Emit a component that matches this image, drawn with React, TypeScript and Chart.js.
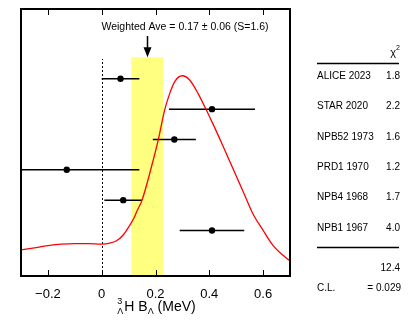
import React, { useEffect, useRef } from "react";
import { Chart, registerables } from "chart.js";

Chart.register(...registerables);

// ---- Data ----
const X_MIN = -0.3;
const X_MAX = 0.7;
const X_TICKS = [-0.2, 0, 0.2, 0.4, 0.6];
const Y_MAX = 8.8;

const EXPERIMENTS = ["ALICE 2023", "STAR 2020", "NPB52 1973", "PRD1 1970", "NPB4 1968", "NPB1 1967"];
const VALUES = [0.07, 0.41, 0.27, -0.13, 0.08, 0.41];
const ERRORS = [0.07, 0.16, 0.08, 0.27, 0.07, 0.12];
const ROWS = [6.5, 5.5, 4.5, 3.5, 2.5, 1.5];
const CHI2 = ["1.8", "2.2", "1.6", "1.2", "1.7", "4.0"];
const CHI2_TOTAL = "12.4";
const CL_TEXT = "= 0.029";

const WEIGHTED_AVE = 0.17;
const WEIGHTED_ERR = 0.06;
const WEIGHTED_LABEL = "Weighted Ave = 0.17 \u00b1 0.06 (S=1.6)";
const BAND_TOP = 7.21;
const ZERO_LINE_TOP = 7.15;
const ARROW_TOP = 7.91;
const LABEL_Y = 8.2;

const CURVE_X = [-0.3, -0.25, -0.2, -0.15, -0.1, -0.05, 0.0, 0.03, 0.055, 0.08, 0.105, 0.12, 0.13, 0.15, 0.185, 0.21, 0.234, 0.253, 0.271, 0.299, 0.327, 0.358, 0.389, 0.42, 0.45, 0.487, 0.524, 0.561, 0.599, 0.636, 0.673, 0.7];
const CURVE_Y = [0.86, 0.93, 1.0, 1.05, 1.07, 1.07, 1.05, 1.08, 1.16, 1.35, 1.68, 1.91, 2.12, 2.5, 3.6, 4.48, 5.47, 6.02, 6.4, 6.6, 6.46, 6.02, 5.47, 4.89, 4.3, 3.56, 2.82, 2.07, 1.52, 1.02, 0.69, 0.5];

const FONT = "'Liberation Sans', Arial, Helvetica, sans-serif";

const fmtTick = (v: number) => {
  const s = Math.abs(v) < 1e-9 ? "0" : String(Math.round(v * 10) / 10);
  return s.replace("-", "\u2212");
};

const overlay = {
  id: "overlay",
  beforeDatasetsDraw(chart: any) {
    const { ctx, chartArea: a, scales } = chart;
    const x = scales.x;
    const y = scales.y;
    ctx.save();
    // band
    const bx0 = x.getPixelForValue(WEIGHTED_AVE - WEIGHTED_ERR);
    const bx1 = x.getPixelForValue(WEIGHTED_AVE + WEIGHTED_ERR);
    const by0 = y.getPixelForValue(BAND_TOP);
    ctx.fillStyle = "#ffff80";
    ctx.fillRect(bx0, by0, bx1 - bx0, a.bottom - by0);
    // dotted zero line
    ctx.strokeStyle = "#000";
    ctx.lineWidth = 1;
    ctx.setLineDash([2, 2]);
    ctx.beginPath();
    const zx = Math.round(x.getPixelForValue(0)) + 0.5;
    ctx.moveTo(zx, a.bottom);
    ctx.lineTo(zx, y.getPixelForValue(ZERO_LINE_TOP));
    ctx.stroke();
    ctx.setLineDash([]);
    // error bars
    ctx.save();
    ctx.beginPath();
    ctx.rect(a.left, a.top, a.right - a.left, a.bottom - a.top);
    ctx.clip();
    ctx.lineWidth = 1.5;
    ctx.strokeStyle = "#000";
    VALUES.forEach((v, i) => {
      const py = y.getPixelForValue(ROWS[i]);
      ctx.beginPath();
      ctx.moveTo(x.getPixelForValue(v - ERRORS[i]), py);
      ctx.lineTo(x.getPixelForValue(v + ERRORS[i]), py);
      ctx.stroke();
    });
    ctx.restore();
    ctx.restore();
  },
  afterDatasetsDraw(chart: any) {
    const { ctx, chartArea: a, scales } = chart;
    const x = scales.x;
    const y = scales.y;
    ctx.save();
    // frame
    ctx.strokeStyle = "#000";
    ctx.lineWidth = 2;
    ctx.strokeRect(a.left, a.top, a.right - a.left, a.bottom - a.top);
    // inner ticks
    ctx.lineWidth = 1;
    X_TICKS.forEach((t) => {
      const px = Math.round(x.getPixelForValue(t)) + 0.5;
      ctx.beginPath();
      ctx.moveTo(px, a.bottom);
      ctx.lineTo(px, a.bottom - 6);
      ctx.moveTo(px, a.top);
      ctx.lineTo(px, a.top + 6);
      ctx.stroke();
    });
    // arrow
    const ax = Math.round(x.getPixelForValue(WEIGHTED_AVE)) + 0.5;
    const ayTop = y.getPixelForValue(ARROW_TOP);
    const ayTip = y.getPixelForValue(BAND_TOP);
    ctx.lineWidth = 1.5;
    ctx.beginPath();
    ctx.moveTo(ax, ayTop);
    ctx.lineTo(ax, ayTip - 8);
    ctx.stroke();
    ctx.fillStyle = "#000";
    ctx.beginPath();
    ctx.moveTo(ax - 4, ayTip - 10);
    ctx.lineTo(ax + 4, ayTip - 10);
    ctx.lineTo(ax, ayTip);
    ctx.closePath();
    ctx.fill();
    // label
    ctx.font = `10.5px ${FONT}`;
    ctx.textAlign = "center";
    ctx.textBaseline = "middle";
    ctx.fillText(WEIGHTED_LABEL, 185, y.getPixelForValue(LABEL_Y));

    // axis title: ^3_Λ H B_Λ (MeV)
    const big = `14px ${FONT}`;
    const small = `9px ${FONT}`;
    const base = 311;
    ctx.textAlign = "left";
    ctx.textBaseline = "alphabetic";
    ctx.font = small;
    const preW = Math.max(ctx.measureText("3").width, ctx.measureText("\u039b").width);
    ctx.font = big;
    const w1 = ctx.measureText("H B").width;
    ctx.font = small;
    const w2 = ctx.measureText("\u039b").width;
    ctx.font = big;
    const w3 = ctx.measureText(" (MeV)").width;
    const total = preW + 1 + w1 + w2 + w3;
    let cx = (a.left + a.right) / 2 + 1 - total / 2;
    ctx.font = small;
    ctx.fillText("3", cx, base - 7);
    ctx.fillText("\u039b", cx, base + 3);
    cx += preW + 1;
    ctx.font = big;
    ctx.fillText("H B", cx, base);
    cx += w1;
    ctx.font = small;
    ctx.fillText("\u039b", cx, base + 3);
    cx += w2;
    ctx.font = big;
    ctx.fillText(" (MeV)", cx, base);

    // table
    const tl = 317;
    const tr = 400;
    ctx.textBaseline = "middle";
    ctx.textAlign = "right";
    ctx.font = `7px ${FONT}`;
    ctx.fillText("2", tr, 48);
    const w7 = ctx.measureText("2").width;
    ctx.font = `11px ${FONT}`;
    ctx.fillText("\u03c7", tr - w7, 53);
    ctx.lineWidth = 1.5;
    ctx.beginPath();
    ctx.moveTo(tl, 63.5);
    ctx.lineTo(tr - 1, 63.5);
    ctx.moveTo(tl, 247.5);
    ctx.lineTo(tr - 1, 247.5);
    ctx.stroke();
    ctx.font = `10px ${FONT}`;
    EXPERIMENTS.forEach((name, i) => {
      const py = y.getPixelForValue(ROWS[i]) - 2.5;
      ctx.textAlign = "left";
      ctx.fillText(name, tl, py);
      ctx.textAlign = "right";
      ctx.fillText(CHI2[i], tr, py);
    });
    ctx.textAlign = "right";
    ctx.fillText(CHI2_TOTAL, tr, 268.5);
    ctx.textAlign = "left";
    ctx.fillText("C.L.", tl, 288);
    ctx.textAlign = "right";
    ctx.fillText(CL_TEXT, tr + 1, 288);
    ctx.restore();
  },
};

export default function App() {
  const ref = useRef<HTMLCanvasElement | null>(null);
  useEffect(() => {
    if (!ref.current) return;
    const chart = new Chart(ref.current, {
      type: "scatter",
      data: {
        datasets: [
          {
            label: "ideogram",
            data: CURVE_X.map((xv, i) => ({ x: xv, y: CURVE_Y[i] })),
            showLine: true,
            borderColor: "#ff0000",
            borderWidth: 1.3,
            pointRadius: 0,
            cubicInterpolationMode: "monotone",
            order: 2,
          } as any,
          {
            label: "measurements",
            data: VALUES.map((v, i) => ({ x: v, y: ROWS[i] })),
            backgroundColor: "#000",
            borderColor: "#000",
            pointRadius: 3.2,
            borderWidth: 0,
            order: 1,
          },
        ],
      },
      options: {
        animation: false,
        responsive: false,
        devicePixelRatio: 1,
        layout: { padding: { left: 21, right: 125, top: 9, bottom: 0 } },
        plugins: { legend: { display: false }, tooltip: { enabled: false } },
        scales: {
          x: {
            type: "linear",
            min: X_MIN,
            max: X_MAX,
            grid: { display: false },
            border: { display: false },
            afterBuildTicks: (s: any) => {
              s.ticks = X_TICKS.map((v) => ({ value: v }));
            },
            afterFit: (s: any) => {
              s.height = 46;
            },
            ticks: {
              color: "#000",
              padding: 3,
              maxRotation: 0,
              font: { family: FONT, size: 13 },
              callback: (v: any) => fmtTick(Number(v)),
            },
          },
          y: {
            type: "linear",
            min: 0,
            max: Y_MAX,
            display: false,
          },
        },
      },
      plugins: [overlay],
    });
    return () => chart.destroy();
  }, []);
  return (
    <div style={{ position: "absolute", left: 0, top: 0, width: 415, height: 322, background: "#fff" }}>
      <canvas ref={ref} width={415} height={322} style={{ width: 415, height: 322, display: "block" }} />
    </div>
  );
}
